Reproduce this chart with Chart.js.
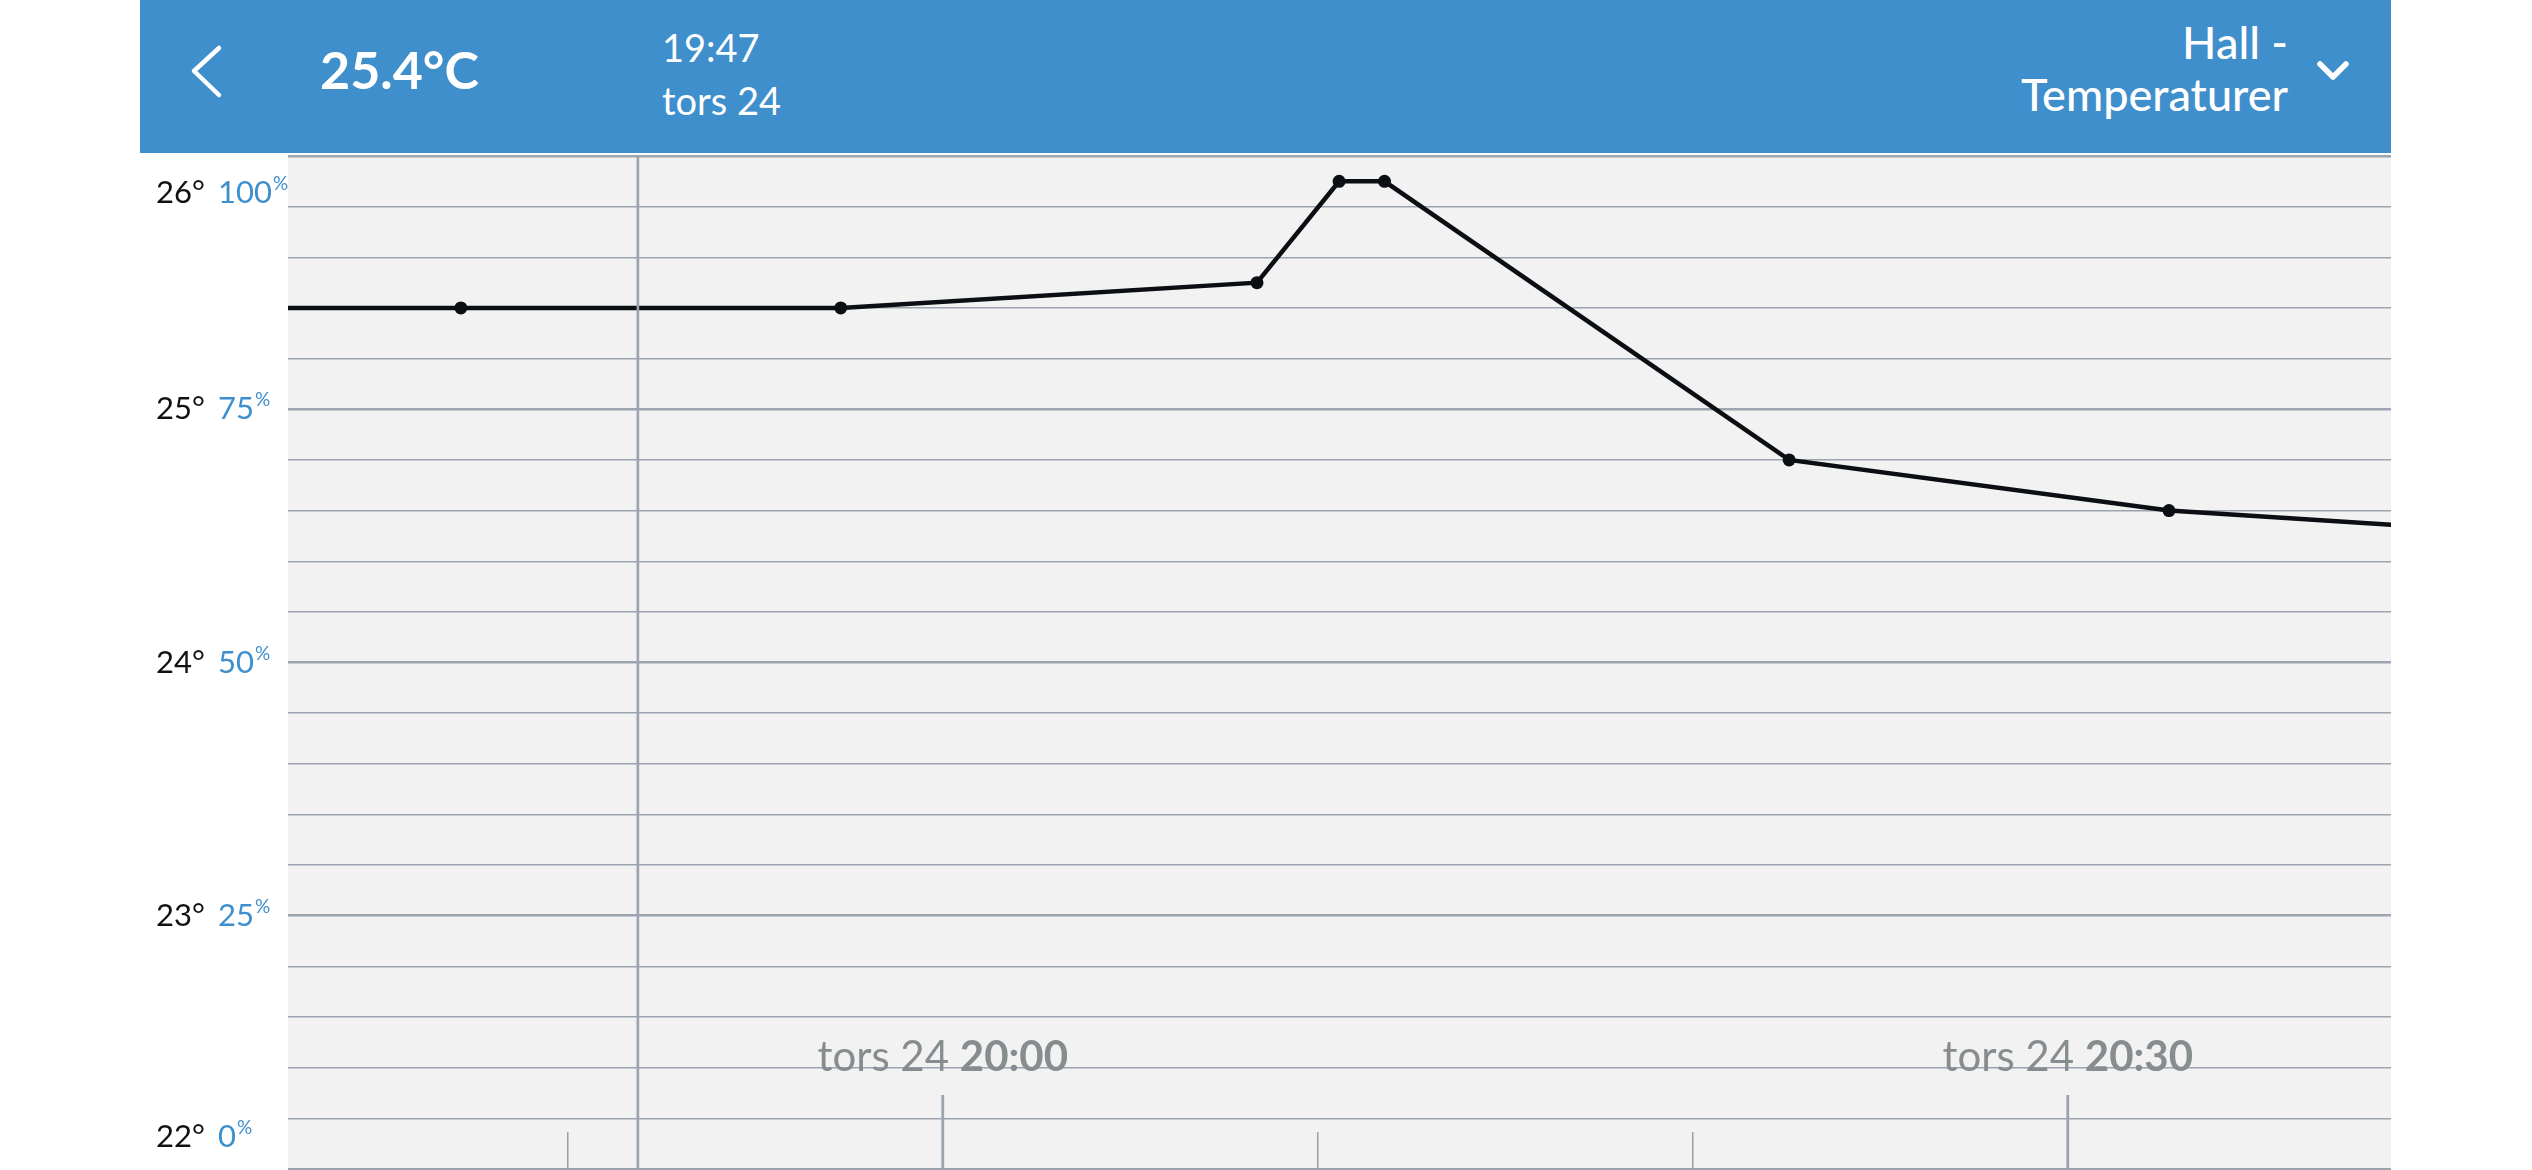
<!DOCTYPE html>
<html>
<head>
<meta charset="utf-8">
<script src="https://cdn.jsdelivr.net/npm/chart.js@4.4.1/dist/chart.umd.min.js"></script>
<style>
  html, body { margin: 0; padding: 0; background: #fff; }
  body { width: 2532px; height: 1170px; position: relative; overflow: hidden; font-family: Lato, 'Open Sans', sans-serif; }
  #wrap { position: absolute; left: 0; top: 0; width: 2532px; height: 1170px; }
  #wrap canvas { display: block; }
  #header {
    position: absolute; left: 140px; top: 0; width: 2251px; height: 153px;
    background: #3f8fcc; color: #fff;
  }
  #header svg { position: absolute; left: 0; top: 0; }
  .temp { position: absolute; left: 180px; top: 43px; font-size: 52px; font-weight: 700; line-height: 1; }
  .when { position: absolute; left: 522px; top: 21px; font-size: 38px; font-weight: 400; line-height: 53px; }
  .room { position: absolute; right: 103px; top: 16px; font-size: 45px; font-weight: 500; line-height: 52px; text-align: right; }
</style>
</head>
<body>
<div id="wrap"><canvas id="myChart" width="2532" height="1170"></canvas></div>
<div id="header">
  <svg width="2251" height="153">
    <polyline points="79,48 54,71 79,95" fill="none" stroke="#fff" stroke-width="4.5" stroke-linecap="round" stroke-linejoin="round"/>
    <polyline points="2180,64 2193,77 2206,64" fill="none" stroke="#fff" stroke-width="5.5" stroke-linecap="round" stroke-linejoin="round"/>
  </svg>
  <div class="temp">25.4°C</div>
  <div class="when">19:47<br>tors 24</div>
  <div class="room">Hall -<br>Temperaturer</div>
</div>
<script>
// tid i minutter efter midnat, temperatur i °C
const times = [1177.0, 1187.15, 1197.28, 1208.38, 1210.57, 1211.78, 1222.57, 1232.70, 1243.18]
const temps = [25.4, 25.4, 25.4, 25.5, 25.9, 25.9, 24.8, 24.6, 24.5]

const yLabelValues = [26, 25, 24, 23, 22]
const yLabelPercent = ['100', '75', '50', '25', '0']

const minorTicks = [1190, 1210, 1220]
const majorTicks = [1200, 1230]
const majorTickDay = ['tors 24', 'tors 24']
const majorTickTime = ['20:00', '20:30']

const cursorTime = 1191.87
const xMin = 1182.54
const xMax = 1238.62

const gridColor = '#9ba4af'
const blue = '#3d8fcd'

const bgPlugin = {
  id: 'bgPlugin',
  beforeDraw(chart) {
    const { ctx, chartArea } = chart
    ctx.save()
    ctx.fillStyle = '#f2f2f2'
    ctx.fillRect(chartArea.left, chartArea.top, chartArea.right - chartArea.left, chartArea.bottom - chartArea.top + 2)
    ctx.restore()
  },
}

const axisPlugin = {
  id: 'axisPlugin',
  afterDatasetsDraw(chart) {
    const { ctx, chartArea } = chart
    const x = chart.scales.x
    ctx.save()

    // cursor
    ctx.strokeStyle = gridColor
    ctx.lineWidth = 2.7
    let cx = x.getPixelForValue(cursorTime)
    ctx.beginPath()
    ctx.moveTo(cx, chartArea.top)
    ctx.lineTo(cx, chartArea.bottom + 2)
    ctx.stroke()

    // minor ticks
    ctx.lineWidth = 1.6
    minorTicks.forEach((t) => {
      let px = x.getPixelForValue(t)
      ctx.beginPath()
      ctx.moveTo(px, chartArea.bottom - 37)
      ctx.lineTo(px, chartArea.bottom + 2)
      ctx.stroke()
    })
    // major ticks + labels
    majorTicks.forEach((t, i) => {
      let px = x.getPixelForValue(t)
      ctx.lineWidth = 2.8
      ctx.beginPath()
      ctx.moveTo(px, chartArea.bottom - 74)
      ctx.lineTo(px, chartArea.bottom + 2)
      ctx.stroke()

      const normal = '42px Lato'
      const bold = 'bold 42px Lato'
      ctx.font = normal
      let w1 = ctx.measureText(majorTickDay[i] + ' ').width
      ctx.font = bold
      let w2 = ctx.measureText(majorTickTime[i]).width
      let start = px - (w1 + w2) / 2
      ctx.fillStyle = '#878c8f'
      ctx.textBaseline = 'alphabetic'
      ctx.textAlign = 'left'
      ctx.font = normal
      ctx.fillText(majorTickDay[i] + ' ', start, chartArea.bottom - 98)
      ctx.font = bold
      ctx.fillText(majorTickTime[i], start + w1, chartArea.bottom - 98)
    })
    ctx.restore()
  },
  afterDraw(chart) {
    const { ctx, chartArea } = chart
    const y = chart.scales.y
    ctx.save()
    ctx.textBaseline = 'middle'
    ctx.textAlign = 'left'
    yLabelValues.forEach((v, i) => {
      let py = y.getPixelForValue(v)
      py = Math.max(chartArea.top + 37, Math.min(chartArea.bottom - 32, py))
      ctx.font = '31px Lato'
      ctx.fillStyle = '#111'
      ctx.fillText(v + '°', 156, py)
      ctx.fillStyle = blue
      ctx.fillText(yLabelPercent[i], 218, py)
      let w = ctx.measureText(yLabelPercent[i]).width
      ctx.font = '19px Lato'
      ctx.fillText('%', 218 + w + 1, py - 9)
    })
    ctx.restore()
  },
}

const ctx = document.getElementById('myChart')
new Chart(ctx, {
  type: 'line',
  data: {
    datasets: [
      {
        data: times.map((t, i) => ({ x: t, y: temps[i] })),
        borderColor: '#0b0e13',
        backgroundColor: '#0b0e13',
        borderWidth: 4.5,
        pointRadius: 6.5,
        pointBorderWidth: 0,
        pointBackgroundColor: '#0b0e13',
        tension: 0,
        fill: false,
      },
    ],
  },
  options: {
    responsive: false,
    animation: false,
    devicePixelRatio: 1,
    layout: { autoPadding: false, padding: { left: 288, right: 141, top: 156, bottom: 1 } },
    plugins: {
      legend: { display: false },
      tooltip: { enabled: false },
    },
    scales: {
      x: { type: 'linear', min: xMin, max: xMax, display: false },
      y: {
        min: 22,
        max: 26,
        ticks: { display: false, stepSize: 0.2 },
        border: { display: false },
        grid: {
          drawTicks: false,
          color: gridColor,
          lineWidth: (c) => {
            const v = c.tick ? c.tick.value : 0
            return Math.abs(v - Math.round(v)) < 1e-6 ? 2.6 : 1.4
          },
        },
        afterFit(s) { s.width = 0 },
      },
    },
  },
  plugins: [bgPlugin, axisPlugin],
})
</script>
</body>
</html>
